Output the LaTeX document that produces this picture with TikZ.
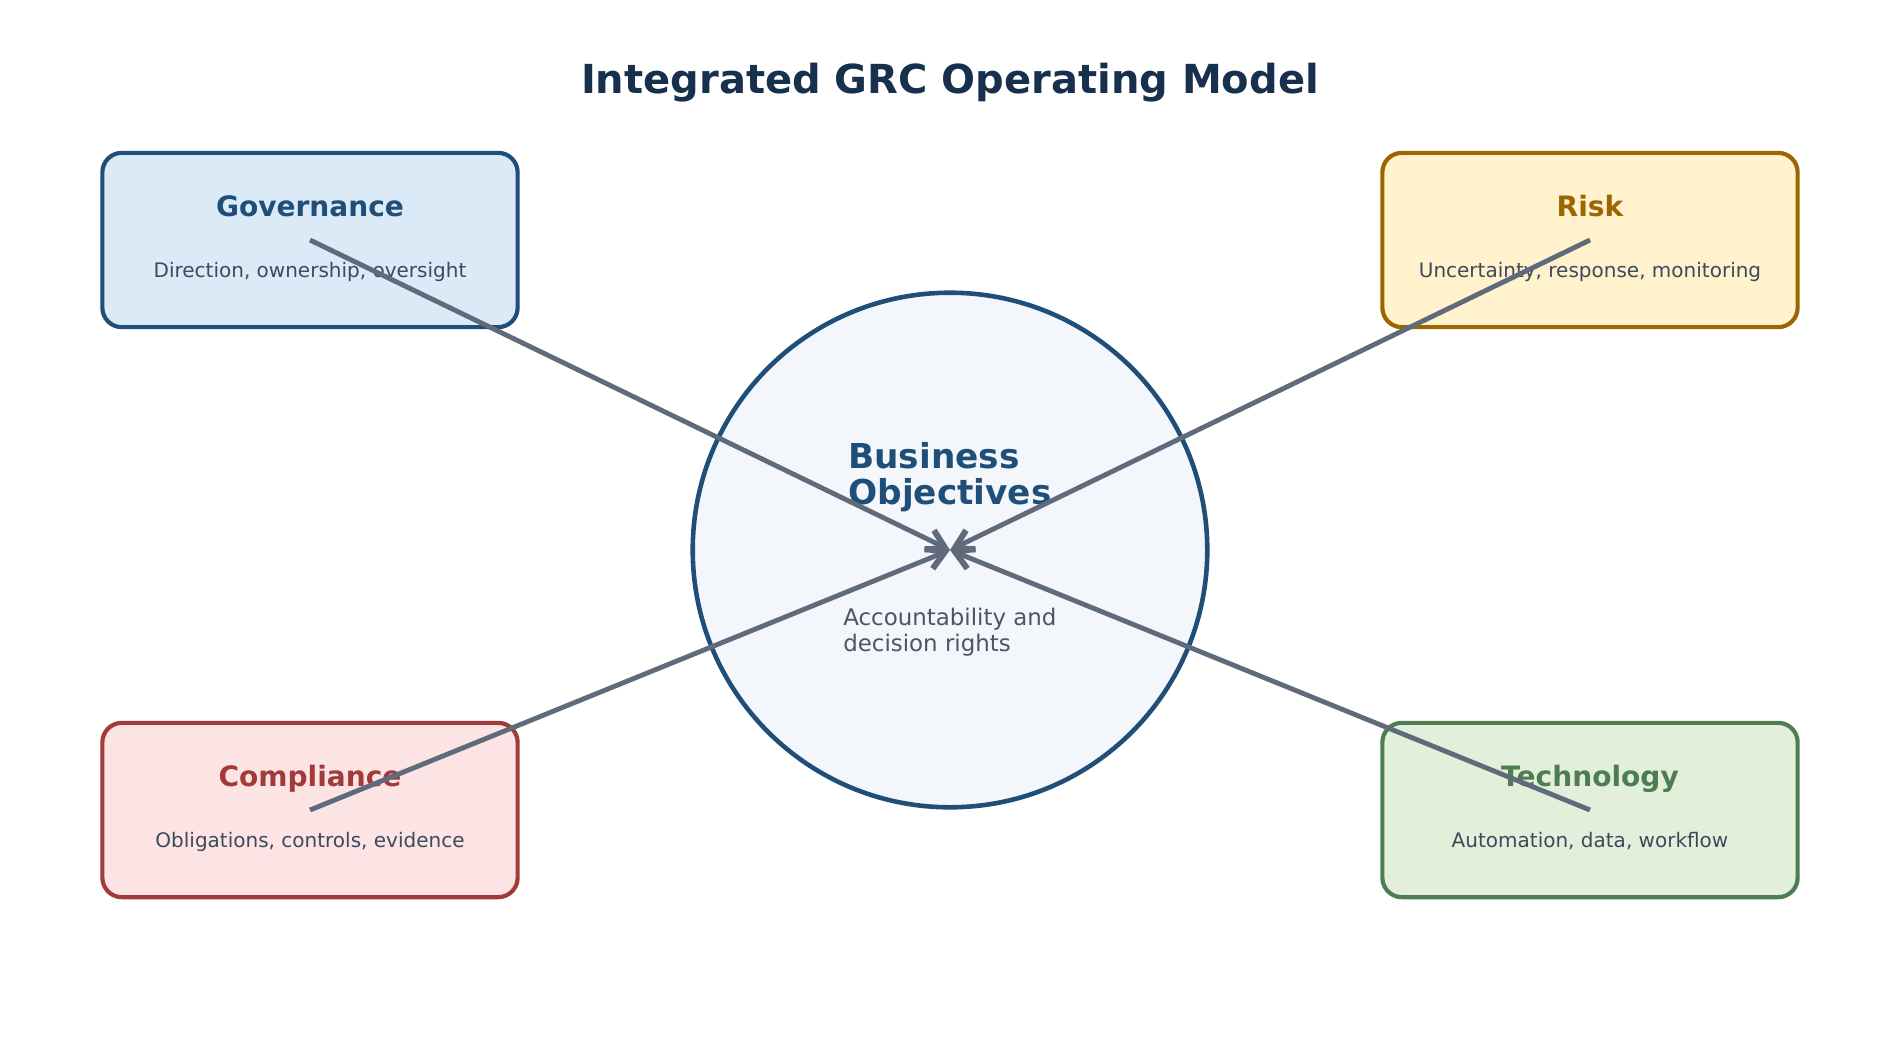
\documentclass[tikz,border=0pt]{standalone}
\usepackage{fontspec}
\setmainfont{DejaVu Sans}
\usepackage{tikz}
\usetikzlibrary{arrows.meta, positioning, calc}
\definecolor{ink}{HTML}{17304D}
\definecolor{govline}{HTML}{1F4E79}
\definecolor{govfill}{HTML}{DAEAF6}
\definecolor{riskline}{HTML}{9C6500}
\definecolor{riskfill}{HTML}{FFF2CC}
\definecolor{compline}{HTML}{A33A3A}
\definecolor{compfill}{HTML}{FCE4E4}
\definecolor{techline}{HTML}{4E7D50}
\definecolor{techfill}{HTML}{E2EFDA}
\definecolor{hubfill}{HTML}{F3F7FB}
\definecolor{wire}{HTML}{5F6B7B}
\definecolor{note}{HTML}{3D4A5C}
\definecolor{subnote}{HTML}{4A5568}

\begin{document}
\begin{tikzpicture}[
  x=0.72pt, y=-0.72pt,
  pillar/.style={draw=#1line, fill=#1fill, line width=3pt, rounded corners=14pt,
    minimum width=299pt, minimum height=125.5pt, inner sep=0pt},
  head/.style={font=\fontsize{20.2pt}{24pt}\selectfont\bfseries, text=#1line, anchor=base, inner sep=0pt},
  desc/.style={font=\fontsize{14.4pt}{17pt}\selectfont, text=note, anchor=base, inner sep=0pt},
  hub/.style={circle, draw=govline, fill=hubfill, line width=3.3pt, minimum size=370.5pt, inner sep=0pt},
  link/.style={draw=wire, line width=3.5pt, -{Straight Barb[length=12.5pt, width=15.5pt, line width=4.3pt]}}
]
\useasboundingbox (0,0) rectangle (1900,1050);
\node[font=\fontsize{28.8pt}{34pt}\selectfont\bfseries, text=ink, anchor=base] (title) at (950,93) {Integrated GRC Operating Model};

\node[hub] (obj) at (950,550) {};
\node[font=\fontsize{24.7pt}{26pt}\selectfont\bfseries, text=govline, align=left, anchor=north west, inner sep=0pt]
  (objh) at (848,442) {Business\\Objectives};
\node[font=\fontsize{16.5pt}{18.6pt}\selectfont, text=subnote, align=left, anchor=north west, inner sep=0pt]
  (objn) at (843,608) {Accountability and\\decision rights};

\node[pillar=gov] (gov) at (310,240) {};
\node[head=gov] (govh) at ($(gov.center)+(0,-24)$) {Governance};
\node[desc] (govd) at ($(gov.center)+(0,37)$) {Direction, ownership, oversight};

\node[pillar=risk] (risk) at (1590,240) {};
\node[head=risk] (riskh) at ($(risk.center)+(0,-24)$) {Risk};
\node[desc] (riskd) at ($(risk.center)+(0,37)$) {Uncertainty, response, monitoring};

\node[pillar=comp] (comp) at (310,810) {};
\node[head=comp] (comph) at ($(comp.center)+(0,-24)$) {Compliance};
\node[desc] (compd) at ($(comp.center)+(0,37)$) {Obligations, controls, evidence};

\node[pillar=tech] (tech) at (1590,810) {};
\node[head=tech] (techh) at ($(tech.center)+(0,-24)$) {Technology};
\node[desc] (techd) at ($(tech.center)+(0,37)$) {Automation, data, workflow};

% spokes into the hub
\draw[link] (gov.center) -- (obj.center);
\draw[link] (risk.center) -- (obj.center);
\draw[link] (comp.center) -- (obj.center);
\draw[link] (tech.center) -- (obj.center);
\end{tikzpicture}
\end{document}
